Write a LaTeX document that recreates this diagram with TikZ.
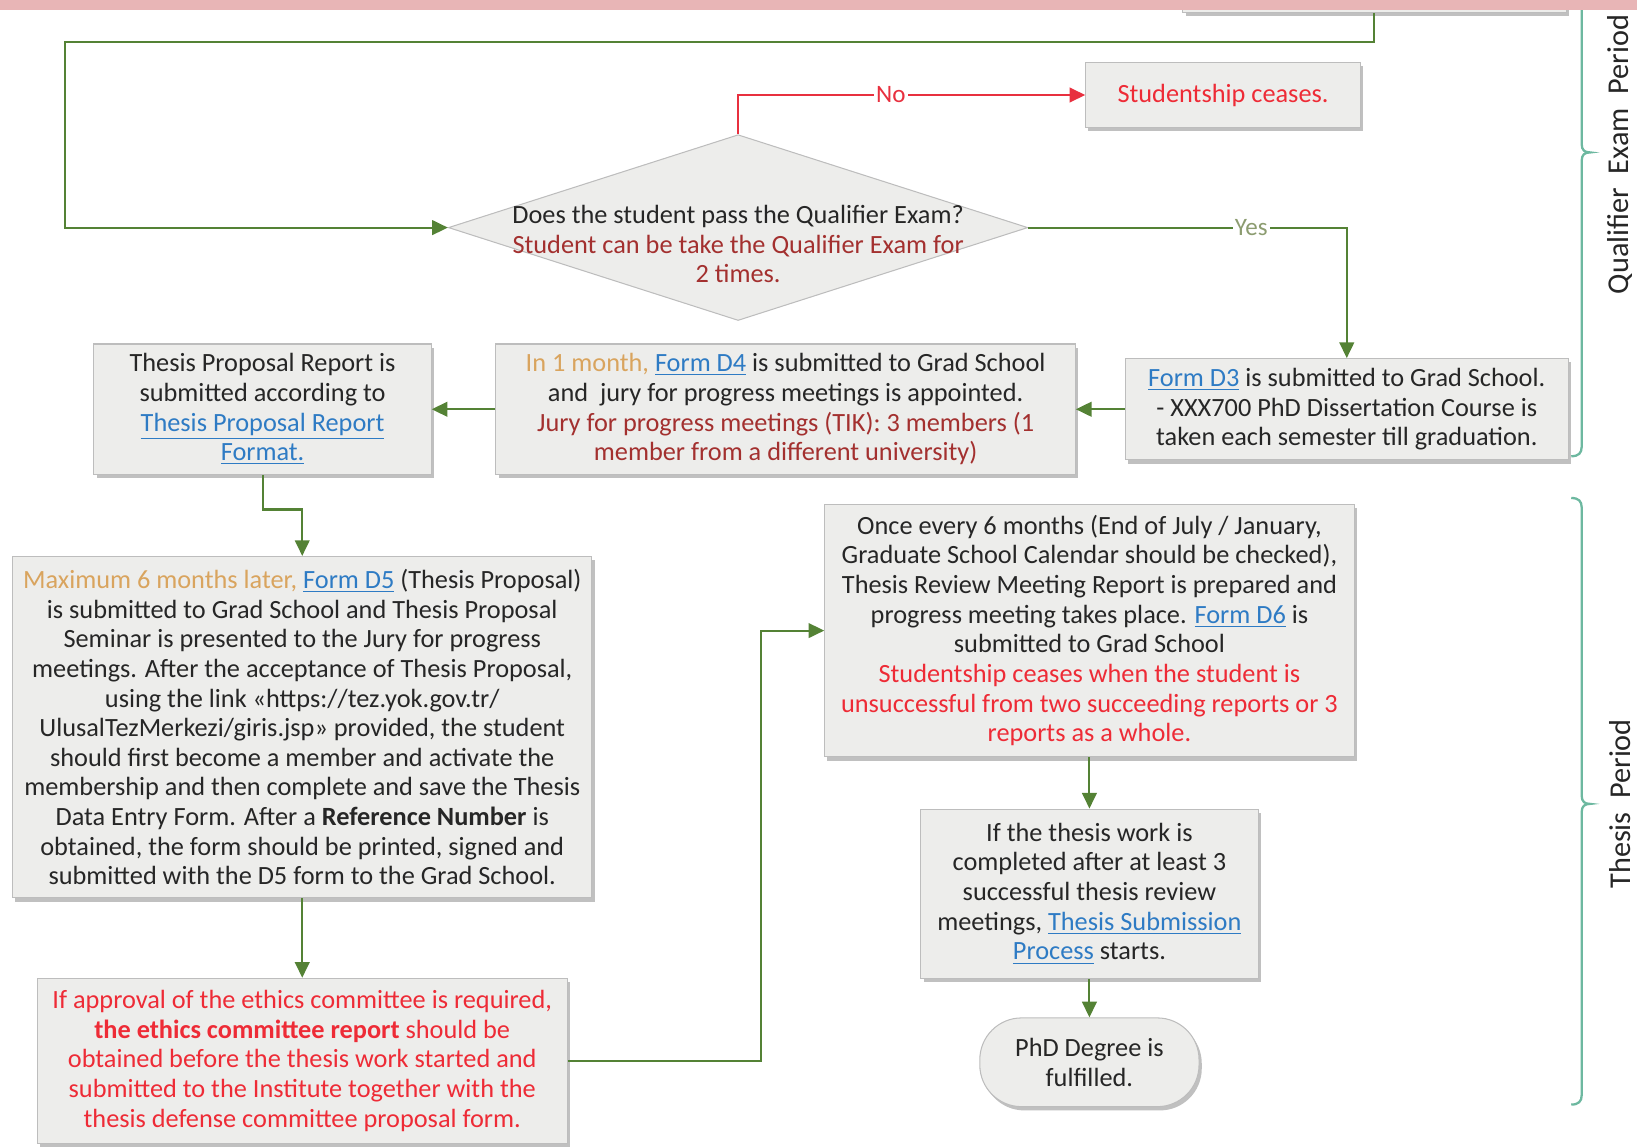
\documentclass[tikz,border=0pt]{standalone}
\usepackage{fontspec}
\setmainfont{Carlito}
\usetikzlibrary{arrows.meta,shapes.geometric,shadows}
\definecolor{boxfill}{HTML}{EDEDEB}
\definecolor{boxline}{HTML}{BDBDBD}
\definecolor{grn}{HTML}{548235}
\definecolor{redl}{HTML}{E8303F}
\definecolor{orangetxt}{HTML}{D9A45E}
\definecolor{darkredtxt}{HTML}{A3302F}
\definecolor{linkblue}{HTML}{2E7BC4}
\definecolor{brightred}{HTML}{EE2B36}
\definecolor{bracec}{HTML}{6DB8A0}
\definecolor{pinkband}{HTML}{E8B5B6}
\definecolor{txt}{HTML}{262626}
\definecolor{yescol}{HTML}{8C9C70}
\newcommand{\lnk}[1]{\textcolor{linkblue}{\underline{#1}}}
\newcommand{\orn}[1]{\textcolor{orangetxt}{#1}}
\newcommand{\drd}[1]{\textcolor{darkredtxt}{#1}}
\newcommand{\brd}[1]{\textcolor{brightred}{#1}}
\tikzset{
  proc/.style={draw=boxline, fill=boxfill, line width=0.5pt, align=center, text=txt,
    inner xsep=1pt, inner ysep=2pt,
    drop shadow={shadow xshift=1.3pt, shadow yshift=-1.8pt, opacity=0.45, fill=black!55},
    font=\fontsize{12.6}{14.2}\selectfont},
  conn/.style={draw=grn, line width=1pt, -{Triangle[length=7.5pt,width=7pt]}},
  rconn/.style={draw=redl, line width=1pt, -{Triangle[length=7.5pt,width=7pt]}},
  lab/.style={fill=white, inner sep=1pt, font=\fontsize{12}{14}\selectfont},
  bracestyle/.style={draw=bracec, line width=1.1pt},
  sidelab/.style={rotate=90, text=txt, font=\fontsize{14.5}{16}\selectfont},
}
\begin{document}
\begin{tikzpicture}[x=0.5pt,y=-0.5pt]
\useasboundingbox (0,0) rectangle (1568,1098);

% box partially visible at the top
\node[proc, minimum width=183.5pt, minimum height=20pt] (prev) at (1316.5,-8) {};

% decision
\node[diamond, draw=boxline, fill=boxfill, line width=0.5pt, minimum width=277.5pt, minimum height=89pt, inner sep=0pt] (q) at (707,218) {};
\node[align=center, text=txt, font=\fontsize{12.6}{14.2}\selectfont] (qt) at (707,234)
  {Does the student pass the Qualifier Exam?\\ \drd{Student can be take the Qualifier Exam for}\\ \drd{2 times.}};

\node[proc, minimum width=131.5pt, minimum height=31pt] (sc) at (1171.5,91) {\brd{Studentship ceases.}};

\node[proc, minimum width=212pt, minimum height=48.5pt] (d3) at (1290,392)
  {\lnk{Form D3} is submitted to Grad School.\\ - XXX700 PhD Dissertation Course is\\ taken each semester till graduation.};

\node[proc, minimum width=277.5pt, minimum height=62.5pt] (d4) at (752.5,392)
  {\orn{In 1 month,} \lnk{Form D4} is submitted to Grad School\\ and\ \ jury for progress meetings is appointed.\\
   \drd{Jury for progress meetings (TIK): 3 members (1}\\ \drd{member from a different university)}};

\node[proc, minimum width=161.5pt, minimum height=62.5pt] (tpr) at (251.5,392)
  {Thesis Proposal Report is\\ submitted according to\\ \lnk{Thesis Proposal Report}\\ \lnk{Format.}};

\node[proc, minimum width=277.5pt, minimum height=163.5pt] (d5) at (289.5,696.5)
  {\orn{Maximum 6 months later,} \lnk{Form D5} (Thesis Proposal)\\
   is submitted to Grad School and Thesis Proposal\\
   Seminar is presented to the Jury for progress\\
   meetings. After the acceptance of Thesis Proposal,\\
   using the link «https://tez.yok.gov.tr/\\
   UlusalTezMerkezi/giris.jsp» provided, the student\\
   should first become a member and activate the\\
   membership and then complete and save the Thesis\\
   Data Entry Form. After a \textbf{Reference Number} is\\
   obtained, the form should be printed, signed and\\
   submitted with the D5 form to the Grad School.};

\node[proc, minimum width=254pt, minimum height=79pt, text=brightred] (eth) at (289.5,1016)
  {If approval of the ethics committee is required,\\
   \textbf{the ethics committee report} should be\\
   obtained before the thesis work started and\\
   submitted to the Institute together with the\\
   thesis defense committee proposal form.};

\node[proc, minimum width=253.5pt, minimum height=121pt] (once) at (1043.5,604)
  {Once every 6 months (End of July / January,\\
   Graduate School Calendar should be checked),\\
   Thesis Review Meeting Report is prepared and\\
   progress meeting takes place. \lnk{Form D6} is\\
   submitted to Grad School\\
   \brd{Studentship ceases when the student is}\\
   \brd{unsuccessful from two succeeding reports or 3}\\
   \brd{reports as a whole.}};

\node[proc, minimum width=161.5pt, minimum height=81pt] (tw) at (1043.5,856)
  {If the thesis work is\\ completed after at least 3\\ successful thesis review\\
   meetings, \lnk{Thesis Submission}\\ \lnk{Process} starts.};

\node[proc, rounded corners=20pt, minimum width=105pt, minimum height=42.5pt] (phd) at (1043.5,1017.5)
  {PhD Degree is\\ fulfilled.};

% connectors
\draw[conn] (prev.south) |- (62,40) |- (q.west);
\draw[rconn] (q.north) |- node[pos=0.72, lab, text=redl] (nolab) {No} (sc.west);
\draw[conn] (q.east) -| node[pos=0.35, lab, text=yescol] (yeslab) {Yes} (d3.north);
\draw[conn] (d3.west) -- (d4.east);
\draw[conn] (d4.west) -- (tpr.east);
\draw[conn] (tpr.south) -- ++(0,33) -| (d5.north);
\draw[conn] (d5.south) -- (eth.north);
\draw[conn] (eth.east) -- ++(185,0) |- (once.west);
\draw[conn] (once.south) -- (tw.north);
\draw[conn] (tw.south) -- (phd.north);

% braces
\draw[bracestyle] (1505,437) .. controls (1512,437) and (1515,434) .. (1515,428)
  -- (1515,154) .. controls (1515,148) and (1518,146) .. (1523,146)
  .. controls (1518,146) and (1515,144) .. (1515,138) -- (1515,-20);
\draw[bracestyle] (1505,477) .. controls (1512,477) and (1515,480) .. (1515,486)
  -- (1515,762) .. controls (1515,768) and (1518,770) .. (1523,770)
  .. controls (1518,770) and (1515,772) .. (1515,778)
  -- (1515,1049) .. controls (1515,1055) and (1512,1058) .. (1505,1058);
\node[sidelab] (qlab) at (1552,148) {Qualifier\hspace{0.45em}Exam\hspace{0.45em}Period};
\node[sidelab] (tlab) at (1552,770) {Thesis\hspace{0.45em}Period};

% top band
\fill[pinkband] (0,-5) rectangle (1568,10);
\end{tikzpicture}
\end{document}
